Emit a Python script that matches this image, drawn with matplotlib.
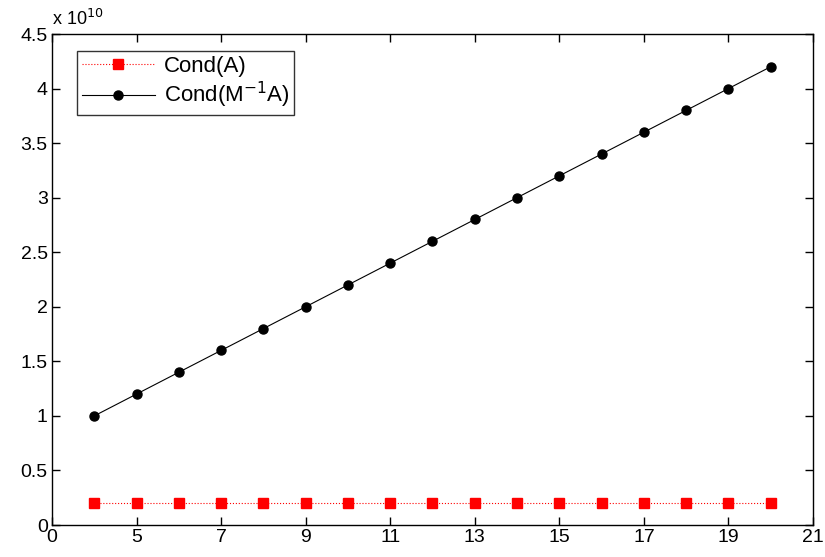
import numpy as np
import matplotlib.pyplot as plt

plt.rcParams['font.family'] = ['Liberation Sans', 'DejaVu Sans']

# Data (values in units of 1e10)
n = [4, 5, 6, 7, 8, 9, 10, 11, 12, 13, 14, 15, 16, 17, 18, 19, 20]
cond_a = [0.2] * 17
cond_ma = [1.0, 1.2, 1.4, 1.6, 1.8, 2.0, 2.2, 2.4, 2.6, 2.8, 3.0,
           3.2, 3.4, 3.6, 3.8, 4.0, 4.2]
xticks = [3, 5, 7, 9, 11, 13, 15, 17, 19, 21]
xticklabels = ['0', '5', '7', '9', '11', '13', '15', '17', '19', '21']
yticks = [0, 0.5, 1, 1.5, 2, 2.5, 3, 3.5, 4, 4.5]

fig = plt.figure(figsize=(8.25, 5.57), dpi=100)
ax = fig.add_axes([52/825, 1 - 525/557, (813-52)/825, (525-34)/557])

ax.plot(n, cond_a, color='red', linestyle=':', linewidth=0.8,
        marker='s', markersize=7, markerfacecolor='red', markeredgecolor='red',
        label='Cond(A)')
ax.plot(n, cond_ma, color='black', linestyle='-', linewidth=0.8,
        marker='o', markersize=6.5, markerfacecolor='black', markeredgecolor='black',
        label='Cond(M$^{-1}$A)')

ax.set_xlim(3, 21)
ax.set_ylim(0, 4.5)
ax.set_xticks(xticks)
ax.set_xticklabels(xticklabels)
ax.set_yticks(yticks)
ax.set_yticklabels(['0', '0.5', '1', '1.5', '2', '2.5', '3', '3.5', '4', '4.5'])
ax.tick_params(direction='in', top=True, right=True, labelsize=14, length=6,
               width=1, pad=3)
for s in ax.spines.values():
    s.set_linewidth(1)

ax.text(0.0, 1.01, r'x 10$^{10}$', transform=ax.transAxes, fontsize=13,
        ha='left', va='bottom')

leg = ax.legend(loc='upper left', bbox_to_anchor=(0.033, 0.965), fontsize=16,
                frameon=True, fancybox=False, edgecolor='black', handlelength=3.3,
                handletextpad=0.4, borderpad=0.2, labelspacing=0.15,
                borderaxespad=0)
leg.get_frame().set_linewidth(1)

plt.savefig('out.png', dpi=100)
